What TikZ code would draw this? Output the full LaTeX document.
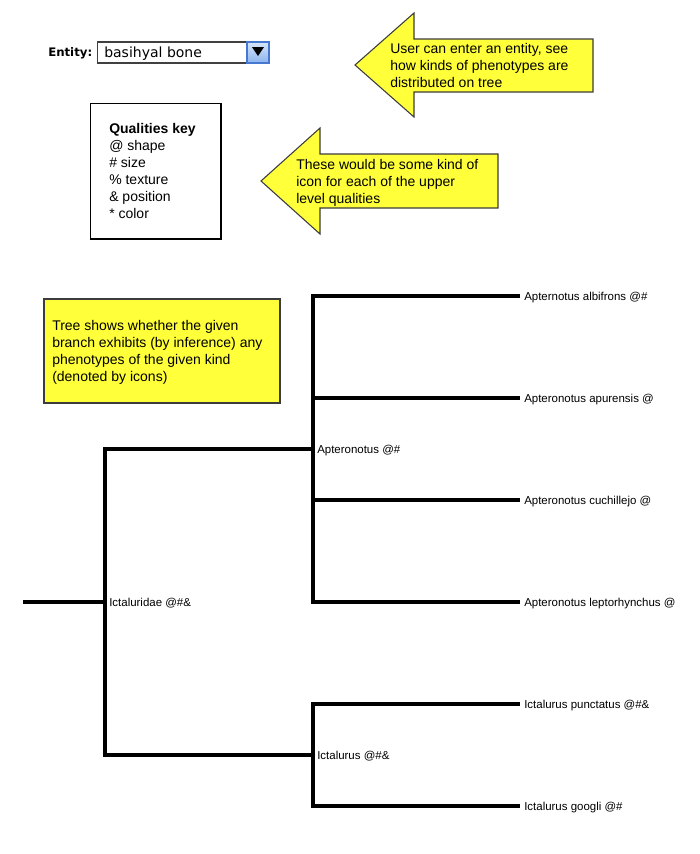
\documentclass[tikz,border=0pt]{standalone}
\usepackage{fontspec}
\setmainfont{Liberation Sans}
\newfontfamily\verdfont{DejaVu Sans}
\definecolor{noteyellow}{RGB}{255,255,58}
\definecolor{notedraw}{RGB}{60,60,60}
\definecolor{btntop}{RGB}{214,229,250}
\definecolor{btnbot}{RGB}{140,180,238}
\definecolor{btnedge}{RGB}{70,120,210}
\tikzset{
  branch/.style={line width=3.2pt, line join=miter, line cap=butt},
  notetext/.style={anchor=base west, inner sep=0pt, align=left, font=\fontsize{10.5}{12.7}\selectfont},
  leaflabel/.style={anchor=base west, inner sep=0pt, font=\fontsize{8.6}{10}\selectfont},
  callout/.style={fill=noteyellow, draw=notedraw, line width=0.8pt, line join=miter},
}
\begin{document}
\begin{tikzpicture}[x=0.75pt,y=-0.75pt]
\useasboundingbox (0,0) rectangle (700,854);

% entity selector
\node[anchor=base west, inner sep=0pt, font=\verdfont\bfseries\fontsize{8.8}{10}\selectfont] (entlabel) at (48,56) {Entity:};
\draw[draw=black!75, fill=white, line width=0.8pt] (97.5,42) rectangle (247,63);
\node[anchor=base west, inner sep=0pt, font=\verdfont\fontsize{10.5}{12}\selectfont] (entvalue) at (104,57) {basihyal bone};
\shade[top color=btntop, bottom color=btnbot, draw=btnedge, line width=0.8pt] (247,42) rectangle (269,63);
\fill[black] (252,47) -- (264,47) -- (258,56) -- cycle;

% callout arrow 1 (base anchor = last line)
\draw[callout] (355,65) -- (414,13) -- (414,39) -- (593,39) -- (593,92) -- (414,92) -- (414,117) -- cycle;
\node[notetext] (note1) at (390,87.5) {User can enter an entity, see\\how kinds of phenotypes are\\distributed on tree};

% qualities key
\draw[black, line width=0.8pt] (90.5,103.5) rectangle (221,239);
\node[notetext] (qkey) at (109,218) {\textbf{Qualities key}\\@ shape\\\# size\\\% texture\\\& position\\* color};

% callout arrow 2
\draw[callout] (261,181) -- (320,128) -- (320,154) -- (498,154) -- (498,208) -- (320,208) -- (320,234) -- cycle;
\node[notetext] (note2) at (296,203.5) {These would be some kind of\\icon for each of the upper\\level qualities};

% tree note
\draw[callout] (44,299) rectangle (280,403);
\node[notetext] (note3) at (52,381) {Tree shows whether the given\\branch exhibits (by inference) any\\phenotypes of the given kind\\(denoted by icons)};

% tree coordinates
\coordinate (r0) at (23,602);
\coordinate (n0) at (105,602);
\coordinate (n0top) at (105,449);
\coordinate (n0bot) at (105,755);
\coordinate (n1) at (313,449);
\coordinate (n1top) at (313,296);
\coordinate (n1b) at (313,398);
\coordinate (n1c) at (313,500);
\coordinate (n1bot) at (313,602);
\coordinate (n2) at (313,755);
\coordinate (n2top) at (313,704);
\coordinate (n2bot) at (313,806);
\coordinate (la) at (520,296);
\coordinate (lb) at (520,398);
\coordinate (lc) at (520,500);
\coordinate (ld) at (520,602);
\coordinate (le) at (520,704);
\coordinate (lf) at (520,806);

\draw[branch] (r0) -- (n0);
\draw[branch] (n1) -- (n0top) -- (n0bot) -- (n2);
\draw[branch] (la) -- (n1top) -- (n1bot) -- (ld);
\draw[branch] (n1b) -- (lb);
\draw[branch] (n1c) -- (lc);
\draw[branch] (le) -- (n2top) -- (n2bot) -- (lf);

% labels
\node[leaflabel] (tIct) at (109,606) {Ictaluridae @\#\&};
\node[leaflabel] (tApt) at (317,453) {Apteronotus @\#};
\node[leaflabel] (tIctl) at (317,759) {Ictalurus @\#\&};
\node[leaflabel] (ta) at (524,300) {Apternotus albifrons @\#};
\node[leaflabel] (tb) at (524,402) {Apteronotus apurensis @};
\node[leaflabel] (tc) at (524,504) {Apteronotus cuchillejo @};
\node[leaflabel] (td) at (524,606) {Apteronotus leptorhynchus @};
\node[leaflabel] (te) at (524,708) {Ictalurus punctatus @\#\&};
\node[leaflabel] (tf) at (524,810) {Ictalurus googli @\#};
\end{tikzpicture}
\end{document}
